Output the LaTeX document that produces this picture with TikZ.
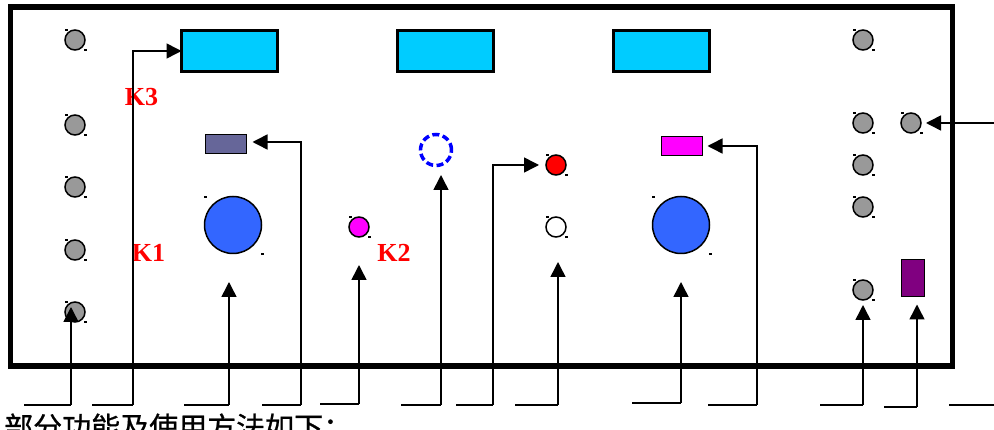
\documentclass[tikz,border=0pt]{standalone}
\usepackage{xcolor}
\usepackage{fontspec}
\setmainfont{Liberation Serif}
\newfontfamily\cjk[FakeBold=0.8]{Noto Sans CJK SC}
\usetikzlibrary{arrows.meta}
\definecolor{knobgrey}{RGB}{153,153,153}
\definecolor{screenblue}{RGB}{0,204,255}
\definecolor{dialblue}{RGB}{51,102,255}
\definecolor{slateblue}{RGB}{102,102,153}
\definecolor{darkpurple}{RGB}{128,0,128}
\definecolor{brightpink}{RGB}{255,0,255}
\tikzset{
    knob/.style={draw,circle,line width=1.5pt,inner sep=0pt,outer sep=0pt,minimum size=20pt,fill=knobgrey},
    dial/.style={draw,circle,line width=1.5pt,inner sep=0pt,outer sep=0pt,minimum size=57pt,fill=dialblue},
    screen/.style={draw,line width=3.5pt,inner sep=0pt,outer sep=0pt,minimum width=96pt,minimum height=41pt,fill=screenblue},
    switchbox/.style={draw,line width=1.5pt,inner sep=0pt,outer sep=0pt,minimum width=41pt,minimum height=19pt},
    pointer/.style={line width=1.5pt,-{Triangle[width=15pt,length=15pt]}},
    lead/.style={line width=1.5pt},
    handle/.style={line width=1.2pt},
    klabel/.style={text=red,font=\fontsize{26}{26}\selectfont\bfseries,inner sep=0pt}
}

\begin{document}
\begin{tikzpicture}[x=1pt,y=-1pt]
\useasboundingbox (0,0) rectangle (994,430);
% panel
\draw[line width=5.5pt] (10.5,7) rectangle (952.5,366);
% displays
\foreach \name/\x in {scrA/229.5,scrB/445.5,scrC/661.5} {
    \node[screen] (\name) at (\x,51) {};
}
% round knobs
\foreach \name/\x/\y/\col in {
    knobA/75/40/knobgrey,knobB/75/125/knobgrey,knobC/75/187/knobgrey,
    knobD/75/250/knobgrey,knobE/75/312/knobgrey,
    knobF/863/40/knobgrey,knobG/863/123/knobgrey,knobH/863/165/knobgrey,
    knobI/863/207/knobgrey,knobJ/863/290/knobgrey,knobK/911/123/knobgrey,
    ledPink/359/227/brightpink,ledRed/556/165/red,ledWhite/556/227/white} {
    \node[knob,fill=\col] (\name) at (\x,\y) {};
    \draw[handle] ([shift={(-10,-10)}]\name.center) -- ++(3,0);
    \draw[handle] ([shift={(9,10)}]\name.center) -- ++(3,0);
}
% big dials
\foreach \name/\x in {dialL/233,dialR/681} {
    \node[dial] (\name) at (\x,225) {};
    \draw[handle] ([shift={(-29,-28)}]\name.center) -- ++(3,0);
    \draw[handle] ([shift={(28,29)}]\name.center) -- ++(3,0);
}
% switches
\node[switchbox,fill=slateblue] (swL) at (226,144) {};
\node[switchbox,fill=brightpink] (swR) at (682,146) {};
\node[draw,line width=1.5pt,inner sep=0pt,outer sep=0pt,minimum width=23pt,minimum height=37pt,fill=darkpurple] (plug) at (913,278) {};
\node[draw=blue,dashed,dash pattern=on 7pt off 3.5pt,line width=3.5pt,circle,inner sep=0pt,outer sep=0pt,minimum size=31pt] (ring) at (436,150) {};
% labels
\node[klabel] (kthree) at (141.5,97) {K3};
\node[klabel] (kone) at (148.5,253) {K1};
\node[klabel] (ktwo) at (394,253) {K2};
\node[anchor=base west,inner sep=0pt,font=\fontsize{29}{29}\selectfont\cjk] (caption) at (4,438) {部分功能及使用方法如下：};
% lead lines under the panel
\foreach \i/\xa/\xb/\y in {1/24/71/405,2/92/133/405,3/184/229/405,4/262/301/405,
    5/320/359/404,6/401/441/405,7/456/493/405,8/515/558/405,9/632/681/403,
    10/708/757/405,11/820/863/405,12/884/917/407} {
    \coordinate (start\i) at (\xa,\y);
    \coordinate (foot\i) at (\xb,\y);
    \draw[lead] (start\i) -- (foot\i);
}
\coordinate (start13) at (949,405);
\coordinate (foot13) at (994,405);
\draw[lead] (start13) -- (foot13);
% straight arrows
\foreach \i/\target/\gap in {1/knobE.south/-15,3/dialL.south/28.5,5/ledPink.south/28,
    6/ring.south/9.5,8/ledWhite.south/25,9/dialR.south/28.5,11/knobJ.south/5,12/plug.south/8} {
    \draw[pointer,shorten >=\gap pt] (foot\i) -- (foot\i |- \target);
}
% bent arrows
\draw[pointer] (foot2) |- (scrA.west);
\draw[pointer,shorten >=6pt] (foot4) |- ([yshift=2pt]swL.east);
\draw[pointer,shorten >=7pt] (foot7) |- (ledRed.west);
\draw[pointer,shorten >=5pt] (foot10) |- (swR.east);
\coordinate (sideK) at (994,123);
\draw[pointer,shorten >=5pt] (sideK) -- (knobK.east);
\end{tikzpicture}
\end{document}
